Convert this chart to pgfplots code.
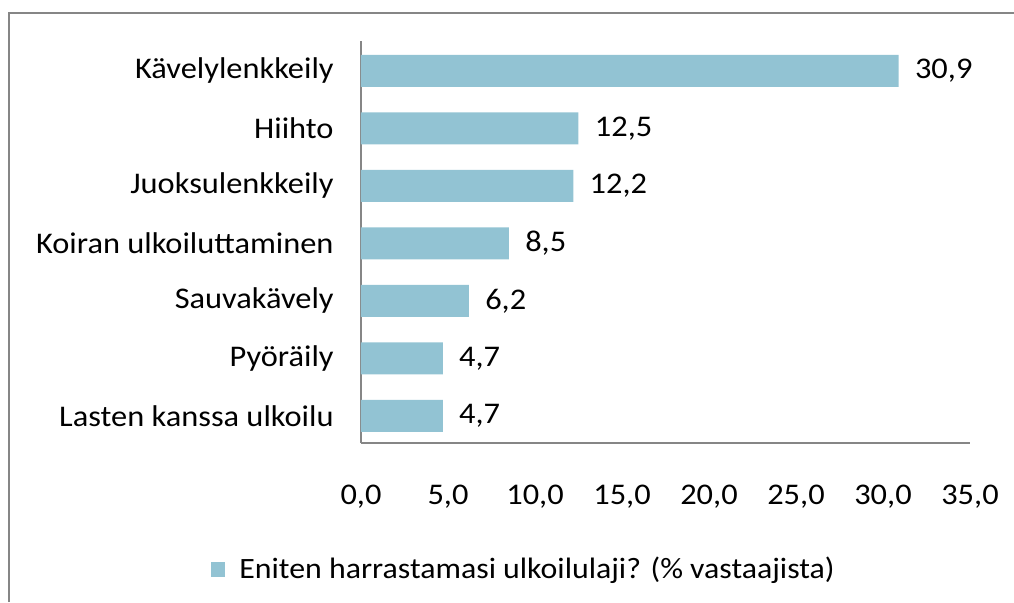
\documentclass[border=0pt]{standalone}
\usepackage{fontspec}
\setmainfont{Carlito}[FakeStretch=1.08]
\usepackage{pgfplots}
\pgfplotsset{compat=1.18}
\definecolor{barc}{RGB}{146,195,211}
\definecolor{axg}{RGB}{134,134,134}
\begin{document}
\begin{tikzpicture}[font=\fontsize{15pt}{18pt}\selectfont]
\useasboundingbox (0,0) rectangle (507pt,301pt);
\draw[axg, line width=1.3pt] (4.4pt,0pt) -- (4.4pt,294.5pt) -- (507pt,294.5pt);
\begin{axis}[
  at={(180.5pt,79.5pt)}, anchor=south west,
  scale only axis, width=304.5pt, height=201pt,
  xbar, bar width=0.556,
  xmin=0, xmax=35, ymin=-0.47, ymax=6.52,
  axis x line=bottom, axis y line=left,
  axis line style={draw=axg, line width=0.6pt, -},
  xtick={0,5,...,35},
  ytick={0,...,6},
  yticklabels={Lasten kanssa ulkoilu,Pyöräily,Sauvakävely,Koiran ulkoiluttaminen,Juoksulenkkeily,Hiihto,Kävelylenkkeily},
  major tick length=0pt,
  xticklabel style={inner sep=0pt, anchor=north, font=\fontsize{15pt}{18pt}\selectfont},
  yticklabel style={inner sep=0pt, anchor=east, font=\fontsize{15pt}{18pt}\selectfont},
  xticklabel shift=21pt,
  yticklabel shift=13.5pt,
  nodes near coords,
  nodes near coords style={font=\fontsize{15pt}{18pt}\selectfont, anchor=west, inner sep=0pt, xshift=8pt},
  legend style={at={(-0.2463,-0.315)}, anchor=west, draw=none, inner sep=0pt, fill=none,
    nodes={inner sep=0pt}, column sep=7pt, font=\fontsize{14.75pt}{18pt}\selectfont},
  legend image code/.code={\fill[barc] (0pt,-3.8pt) rectangle (7pt,3.8pt);},
  /pgf/number format/.cd, fixed, fixed zerofill, precision=1, use comma, assume math mode=true,
]
\addplot[fill=barc, draw=none] coordinates {(4.7,0) (4.7,1) (6.2,2) (8.5,3) (12.2,4) (12.5,5) (30.9,6)};
\addlegendentry{Eniten harrastamasi ulkoilulaji? (\% vastaajista)}
\end{axis}
\end{tikzpicture}
\end{document}
